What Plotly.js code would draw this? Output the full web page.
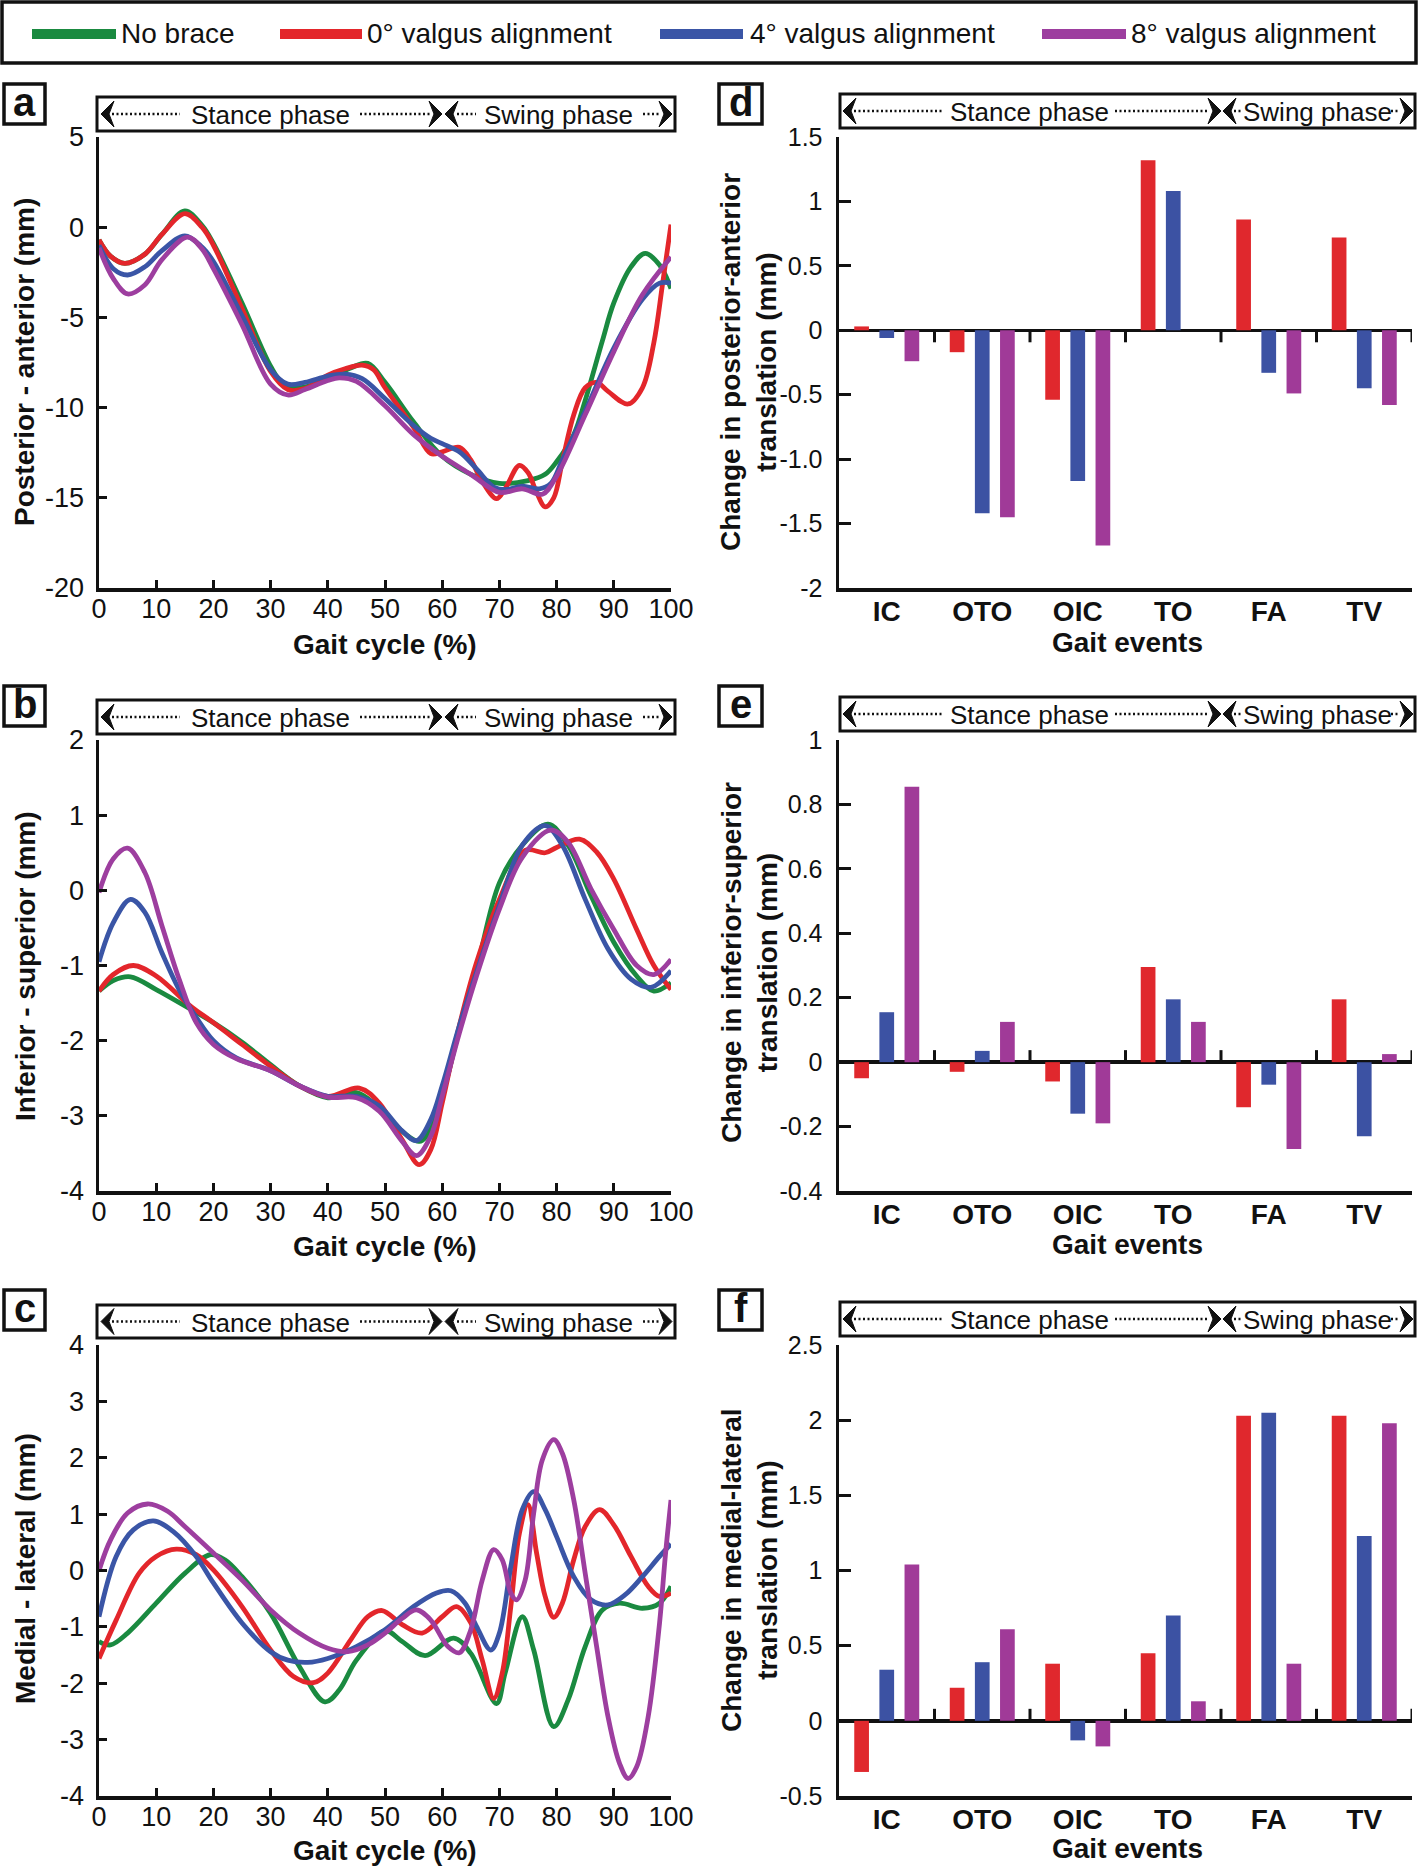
<!DOCTYPE html>
<html><head><meta charset="utf-8">
<script src="https://cdn.plot.ly/plotly-3.0.1.min.js"></script>
<style>html,body{margin:0;padding:0;background:#fff}#chart{width:1418px;height:1874px}</style>
</head><body><div id="chart"></div>
<script>
// ---------- DATA ----------
const seriesNames = ['No brace','0° valgus alignment','4° valgus alignment','8° valgus alignment'];
const gaitTicks = [0,10,20,30,40,50,60,70,80,90,100];

// Panel a: posterior-anterior (mm)
const aNoBraceX = [0,2,4.5,8,11,15,18,20,25,30,32,35,40,44,47,50,55,60,65,70,75,78,80,83,85,88,90,93,95.5,98,100];
const aNoBraceY = [-0.7,-1.6,-2.0,-1.5,-0.4,0.9,0.1,-0.9,-4.2,-7.7,-8.6,-8.9,-8.4,-7.8,-7.55,-8.6,-10.8,-12.7,-13.7,-14.2,-14.05,-13.7,-13.0,-11.5,-9.6,-6.3,-4.2,-2.2,-1.45,-2.1,-3.4];
const aV0X = [0,2,4.5,8,11,15,18,20,25,30,33,36,40,43,46,48,50,55,58,60,63,65,67,69.5,71,73.5,75,76.5,78,79.5,81,83,85,87,89,92.5,95,97,98.5,100];
const aV0Y = [-0.7,-1.6,-2.0,-1.5,-0.4,0.75,0.0,-1.0,-4.5,-8.0,-9.0,-8.95,-8.2,-7.85,-7.65,-7.9,-8.9,-11.1,-12.55,-12.45,-12.2,-12.9,-14.1,-15.05,-14.5,-13.2,-13.6,-14.7,-15.5,-15.0,-13.0,-10.4,-8.9,-8.6,-9.1,-9.8,-8.9,-6.4,-3.2,0.15];
const aV4X = [0,2.5,5,8,11,15,18,20,25,30,33,36,40,43,46,50,55,58,60,63,66,69,71,74,77,79,81,85,90,95,98,100];
const aV4Y = [-1.0,-2.3,-2.65,-2.2,-1.3,-0.48,-1.1,-1.9,-4.9,-7.9,-8.7,-8.6,-8.25,-8.15,-8.4,-9.5,-11.0,-11.7,-12.0,-12.45,-13.4,-14.4,-14.55,-14.35,-14.5,-14.2,-12.9,-10.2,-6.7,-4.0,-3.1,-3.1];
const aV8X = [0,2.5,5,8,11,15.5,18,20,25,30,33,36,40,42,45,50,55,60,65,70,74,77.5,80,85,90,95,100];
const aV8Y = [-1.15,-2.85,-3.7,-3.2,-1.8,-0.55,-1.2,-2.3,-5.4,-8.7,-9.3,-9.0,-8.5,-8.35,-8.55,-9.9,-11.5,-12.7,-13.7,-14.7,-14.5,-14.8,-13.8,-10.4,-6.9,-3.75,-1.65];

// Panel b: inferior-superior (mm)
const bNoBraceX = [0,2.5,5.5,10,16,20,25,30,35,40,45,48,52,56,58,60,63,66,70,74,78.5,82,86,90,94,97,100];
const bNoBraceY = [-1.34,-1.2,-1.15,-1.32,-1.58,-1.76,-2.02,-2.32,-2.6,-2.76,-2.69,-2.83,-3.14,-3.34,-3.18,-2.74,-1.85,-1.05,0.1,0.6,0.88,0.6,-0.07,-0.69,-1.14,-1.34,-1.23];
const bV0X = [0,2.5,6,10,16,20,25,30,35,40,45.5,49,53,56,58,60,63,66,70,74.5,78,80,84,87,90,94,97,100];
const bV0Y = [-1.34,-1.12,-1.0,-1.14,-1.54,-1.76,-2.05,-2.34,-2.6,-2.74,-2.63,-2.83,-3.32,-3.65,-3.45,-2.83,-1.8,-0.96,-0.12,0.53,0.5,0.57,0.68,0.51,0.15,-0.52,-1.0,-1.32];
const bV4X = [0,2.5,5.5,8,11,14,17,20,24,30,35,40,45,49,53,55.5,58,60,63,66,70,74,78,81,85,89,93,96.5,100];
const bV4Y = [-0.95,-0.43,-0.12,-0.29,-0.83,-1.32,-1.69,-2.0,-2.23,-2.4,-2.6,-2.74,-2.74,-2.87,-3.2,-3.33,-3.05,-2.6,-1.8,-1.09,-0.2,0.6,0.86,0.6,-0.12,-0.78,-1.18,-1.29,-1.07];
const bV8X = [0,2.5,5,8,11,14,17,20,24,30,35,40,45,49,53,55.5,58,60,63,66,70,74,79,82,86,90,94,97,100];
const bV8Y = [-0.03,0.42,0.56,0.24,-0.47,-1.18,-1.76,-2.05,-2.24,-2.4,-2.6,-2.75,-2.76,-2.94,-3.34,-3.53,-3.27,-2.74,-1.9,-1.14,-0.25,0.44,0.8,0.64,0.02,-0.52,-1.0,-1.12,-0.92];

// Panel c: medial-lateral (mm)
const cNoBraceX = [0,2,5,10,15,19.5,22,25,30,35,39.5,42,45,50,53,57,62,65,69.5,71,74,76,79.5,82,85,88,91,95,98,100];
const cNoBraceY = [-1.26,-1.32,-1.11,-0.58,-0.05,0.28,0.19,-0.11,-0.76,-1.7,-2.33,-2.12,-1.59,-1.07,-1.26,-1.51,-1.2,-1.47,-2.36,-1.82,-0.82,-1.41,-2.77,-2.3,-1.35,-0.7,-0.58,-0.67,-0.58,-0.28];
const cV0X = [0,3,7,10,13.5,17,20,25,30,34,37.5,40,44,47,49.5,53,56.5,60,62.5,65,67,69,70.5,72,73.5,75,76.5,78,79.5,81,83,85,87.5,90,93,96,98,100];
const cV0Y = [-1.56,-0.88,-0.05,0.25,0.38,0.28,0.01,-0.64,-1.41,-1.88,-1.99,-1.82,-1.23,-0.82,-0.71,-0.96,-1.11,-0.82,-0.64,-0.93,-1.59,-2.27,-1.82,-0.64,0.66,1.17,0.31,-0.46,-0.83,-0.58,0.19,0.78,1.08,0.81,0.25,-0.28,-0.46,-0.4];
const cV4X = [0,3,6,9.5,13,17,20,25,30,33,36.5,40,45,50,55,59,61.5,64,66,68.5,70,72,74,76,78,80,83,86,89,92,95,98,100];
const cV4Y = [-0.82,0.25,0.72,0.88,0.69,0.25,-0.22,-0.93,-1.44,-1.59,-1.63,-1.56,-1.35,-1.05,-0.64,-0.4,-0.36,-0.58,-0.99,-1.41,-1.11,0.07,1.08,1.4,1.08,0.6,-0.11,-0.52,-0.61,-0.43,-0.11,0.25,0.47];
const cV8X = [0,2,5,8.5,12,15,20,25,30,35,40,43.5,47,50,53,55.5,58,61,63,65,67,69,70.5,72,73,74.5,76,77.5,79.5,81,83,85,87,89,91,92.5,94,96,98,99,100];
const cV8Y = [0.0,0.54,1.02,1.18,1.05,0.78,0.31,-0.17,-0.7,-1.11,-1.38,-1.44,-1.32,-1.11,-0.85,-0.7,-0.88,-1.35,-1.46,-1.05,-0.17,0.37,0.19,-0.4,-0.52,-0.17,1.02,1.96,2.32,2.08,1.25,-0.05,-1.35,-2.6,-3.42,-3.69,-3.48,-2.6,-0.93,0.25,1.25];

// Panels d-f: change vs. no brace at gait events (mm)
const gaitEvents = ['IC','OTO','OIC','TO','FA','TV'];
const dV0 = [0.03,-0.17,-0.54,1.32,0.86,0.72];
const dV4 = [-0.06,-1.42,-1.17,1.08,-0.33,-0.45];
const dV8 = [-0.24,-1.45,-1.67,0,-0.49,-0.58];
const eV0 = [-0.05,-0.03,-0.06,0.295,-0.14,0.195];
const eV4 = [0.155,0.035,-0.16,0.195,-0.07,-0.23];
const eV8 = [0.855,0.125,-0.19,0.125,-0.27,0.025];
const fV0 = [-0.34,0.22,0.38,0.45,2.03,2.03];
const fV4 = [0.34,0.39,-0.13,0.70,2.05,1.23];
const fV8 = [1.04,0.61,-0.17,0.13,0.38,1.98];

const aTicks = [-20,-15,-10,-5,0,5];
const bTicks = [-4,-3,-2,-1,0,1,2];
const cTicks = [-4,-3,-2,-1,0,1,2,3,4];
const dTicks = [-2,-1.5,-1,-0.5,0,0.5,1,1.5];
const dTickText = ['-2','-1.5','-1.0','-0.5','0','0.5','1','1.5'];
const eTicks = [-0.4,-0.2,0,0.2,0.4,0.6,0.8,1];
const fTicks = [-0.5,0,0.5,1,1.5,2,2.5];

// ---------- STYLE ----------
const W = 1418, H = 1874;
const fx = p => p / W, fy = p => 1 - p / H;
const FONT = 'Liberation Sans, Arial, Helvetica, sans-serif';
const lineColors = ['#1a8a40', '#e3262b', '#3a55a6', '#9d3e9f'];
const barColors = ['#e0282d', '#3c52a3', '#a03a98'];

const leftX = [99, 671], rightX = [839, 1412];
const rowY = [[137, 588], [740, 1191], [1345, 1796]];

const traces = [];
function addLines(xa, ya, sets) {
  sets.forEach((s, i) => traces.push({
    type: 'scatter', mode: 'lines', x: s[0], y: s[1], xaxis: xa, yaxis: ya,
    line: {color: lineColors[i], width: 4.8, shape: 'spline', smoothing: 1},
    name: seriesNames[i], showlegend: false, hoverinfo: 'skip'
  }));
}
addLines('x', 'y', [[aNoBraceX, aNoBraceY], [aV0X, aV0Y], [aV4X, aV4Y], [aV8X, aV8Y]]);
addLines('x2', 'y2', [[bNoBraceX, bNoBraceY], [bV0X, bV0Y], [bV4X, bV4Y], [bV8X, bV8Y]]);
addLines('x3', 'y3', [[cNoBraceX, cNoBraceY], [cV0X, cV0Y], [cV4X, cV4Y], [cV8X, cV8Y]]);

function addBars(xa, ya, sets) {
  sets.forEach((v, i) => traces.push({
    type: 'bar', x: gaitEvents, y: v, xaxis: xa, yaxis: ya,
    marker: {color: barColors[i], line: {width: 0}},
    name: seriesNames[i + 1], showlegend: false, hoverinfo: 'skip'
  }));
}
addBars('x4', 'y4', [dV0, dV4, dV8]);
addBars('x5', 'y5', [eV0, eV4, eV8]);
addBars('x6', 'y6', [fV0, fV4, fV8]);

const tickFont = {family: FONT, size: 27, color: '#111'};
const rTickFont = {family: FONT, size: 25, color: '#111'};
function leftXAxis(row, anchor) {
  return {domain: [fx(leftX[0]), fx(leftX[1])], anchor: anchor, range: [0, 100],
    tickvals: gaitTicks, ticks: 'inside', ticklen: 8, tickwidth: 3, tickcolor: '#111',
    showline: true, linewidth: 3.5, linecolor: '#111', showgrid: false, zeroline: false,
    tickfont: tickFont, ticklabelstandoff: -6, fixedrange: true};
}
function leftYAxis(row, anchor, rng, tv) {
  return {domain: [fy(rowY[row][1]), fy(rowY[row][0])], anchor: anchor, range: rng,
    tickvals: tv, ticktext: tv.map(v => String(v)),
    ticks: 'inside', ticklen: 8, tickwidth: 3, tickcolor: '#111',
    showline: true, linewidth: 3.5, linecolor: '#111', showgrid: false, zeroline: false,
    tickfont: tickFont, ticklabelstandoff: 6, fixedrange: true};
}
function rightXAxis(row, anchor) {
  return {domain: [fx(rightX[0]), fx(rightX[1])], anchor: anchor, range: [-0.5, 5.5],
    type: 'category', ticks: '', showline: true, linewidth: 3.5, linecolor: '#111',
    showgrid: false, zeroline: false,
    tickfont: {family: FONT, size: 28, color: '#111', weight: 'bold'}, ticklabelstandoff: -4, fixedrange: true};
}
function rightYAxis(row, anchor, rng, tv, tt) {
  return {domain: [fy(rowY[row][1]), fy(rowY[row][0])], anchor: anchor, range: rng,
    tickvals: tv, ticktext: tt || tv.map(v => String(v)),
    ticks: 'inside', ticklen: 12, tickwidth: 3, tickcolor: '#111',
    showline: true, linewidth: 3.5, linecolor: '#111', showgrid: false,
    zeroline: true, zerolinewidth: 3.5, zerolinecolor: '#111',
    tickfont: rTickFont, ticklabelstandoff: 8, fixedrange: true};
}

const layout = {
  width: W, height: H, margin: {l: 0, r: 0, t: 0, b: 0},
  paper_bgcolor: '#fff', plot_bgcolor: 'rgba(0,0,0,0)', showlegend: false,
  font: {family: FONT, color: '#111'},
  barmode: 'group', bargap: 0.21, bargroupgap: 0.415,
  xaxis: leftXAxis(0, 'y'), yaxis: leftYAxis(0, 'x', [-20, 5], aTicks),
  xaxis2: leftXAxis(1, 'y2'), yaxis2: leftYAxis(1, 'x2', [-4, 2], bTicks),
  xaxis3: leftXAxis(2, 'y3'), yaxis3: leftYAxis(2, 'x3', [-4, 4], cTicks),
  xaxis4: rightXAxis(0, 'y4'), yaxis4: rightYAxis(0, 'x4', [-2, 1.5], dTicks, dTickText),
  xaxis5: rightXAxis(1, 'y5'), yaxis5: rightYAxis(1, 'x5', [-0.4, 1], eTicks),
  xaxis6: rightXAxis(2, 'y6'), yaxis6: rightYAxis(2, 'x6', [-0.5, 2.5], fTicks),
  shapes: [], annotations: []
};
const S = layout.shapes, A = layout.annotations;

function text(t, x, y, opt) {
  A.push(Object.assign({text: t, x: fx(x), y: fy(y), xref: 'paper', yref: 'paper',
    showarrow: false, xanchor: 'center', yanchor: 'middle',
    font: {family: FONT, size: 26, color: '#111'}}, opt || {}));
}
function rect(x0, y0, x1, y1, opt) {
  S.push(Object.assign({type: 'rect', xref: 'paper', yref: 'paper',
    x0: fx(x0), x1: fx(x1), y0: fy(y1), y1: fy(y0),
    line: {color: '#111', width: 3}, fillcolor: 'rgba(0,0,0,0)'}, opt || {}));
}
function dotted(x0, x1, y) {
  S.push({type: 'line', xref: 'paper', yref: 'paper', x0: fx(x0), x1: fx(x1), y0: fy(y), y1: fy(y),
    line: {color: '#111', width: 2.5, dash: '2px,2.5px'}});
}
function arrowHead(tip, y, dir) { // dir -1: points left, +1: points right
  const b = tip - dir * 13, n = tip - dir * 8, h = 13;
  const p = 'M' + fx(tip) + ',' + fy(y) + ' L' + fx(b) + ',' + fy(y - h) + ' L' + fx(n) + ',' + fy(y) +
            ' L' + fx(b) + ',' + fy(y + h) + ' Z';
  S.push({type: 'path', xref: 'paper', yref: 'paper', path: p, fillcolor: '#111', line: {color: '#111', width: 1}});
}

// Legend (top frame)
rect(2, 2, 1416, 63, {line: {color: '#111', width: 3.5}});
const legItems = [[32, 116, 119], [280, 362, 365], [660, 743, 748], [1042, 1126, 1129]];
legItems.forEach((it, i) => {
  rect(it[0], 29, it[1], 39, {fillcolor: lineColors[i], line: {width: 0}});
  text(seriesNames[i], it[2], 34, {xanchor: 'left', font: {family: FONT, size: 28, color: '#111'}});
});

// Phase boxes
function leftPhase(top, bot) {
  const ym = (top + bot) / 2;
  rect(97, top, 675, bot);
  arrowHead(101, ym, -1); dotted(112, 180, ym);
  text('Stance phase', 270, ym + 1);
  dotted(360, 430, ym); arrowHead(442, ym, 1); arrowHead(445, ym, -1);
  dotted(457, 476, ym); text('Swing phase', 558, ym + 1);
  dotted(643, 661, ym); arrowHead(672, ym, 1);
}
function rightPhase(top, bot) {
  const ym = (top + bot) / 2;
  rect(840, top, 1415, bot);
  arrowHead(843, ym, -1); dotted(854, 944, ym);
  text('Stance phase', 1029, ym + 1);
  dotted(1115, 1208, ym); arrowHead(1221, ym, 1); arrowHead(1223, ym, -1);
  dotted(1234, 1243, ym); text('Swing phase', 1317, ym + 1);
  dotted(1391, 1400, ym); arrowHead(1413, ym, 1);
}
leftPhase(97, 131); leftPhase(700, 734); leftPhase(1305, 1338);
rightPhase(94, 128); rightPhase(697, 731); rightPhase(1302, 1336);

// Panel letters
function letter(l, x0, y0, x1, y1) {
  rect(x0, y0, x1, y1, {line: {color: '#111', width: 3.5}, fillcolor: '#fff'});
  text(l, (x0 + x1) / 2, (y0 + y1) / 2 - 2, {font: {family: FONT, size: 40, color: '#111', weight: 'bold'}});
}
letter('a', 4, 84, 45, 124); letter('b', 4, 686, 45, 726); letter('c', 4, 1290, 45, 1330);
letter('d', 719, 84, 762, 124); letter('e', 719, 686, 762, 726); letter('f', 719, 1290, 762, 1330);

// Zero-line boundary ticks on bar panels
function boundaryTicks(xa, ya, dir) {
  for (let i = 0; i < 6; i++) {
    S.push({type: 'line', xref: xa, yref: ya, x0: i + 0.5, x1: i + 0.5,
      ysizemode: 'pixel', yanchor: 0, y0: 0, y1: dir * 12, line: {color: '#111', width: 3}});
  }
}
boundaryTicks('x4', 'y4', -1); boundaryTicks('x5', 'y5', 1); boundaryTicks('x6', 'y6', 1);

// Axis titles
const tFont = {family: FONT, size: 28, color: '#111', weight: 'bold'};
const xt = [644, 1246, 1850];
xt.forEach(y => {
  text('Gait cycle (%)', (leftX[0] + leftX[1]) / 2, y, {font: tFont});
  text('Gait events', (rightX[0] + rightX[1]) / 2 + 2, y - 2, {font: tFont});
});
text('Posterior - anterior (mm)', 25, 362, {textangle: -90, font: tFont});
text('Inferior - superior (mm)', 25, 966, {textangle: -90, font: tFont});
text('Medial - lateral (mm)', 25, 1569, {textangle: -90, font: tFont});
text('Change in posterior-anterior<br>translation (mm)', 749, 362, {textangle: -90, font: tFont});
text('Change in inferior-superior<br>translation (mm)', 749, 962, {textangle: -90, font: tFont});
text('Change in medial-lateral<br>translation (mm)', 749, 1570, {textangle: -90, font: tFont});

Plotly.newPlot('chart', traces, layout, {displayModeBar: false, staticPlot: true});
</script></body></html>
